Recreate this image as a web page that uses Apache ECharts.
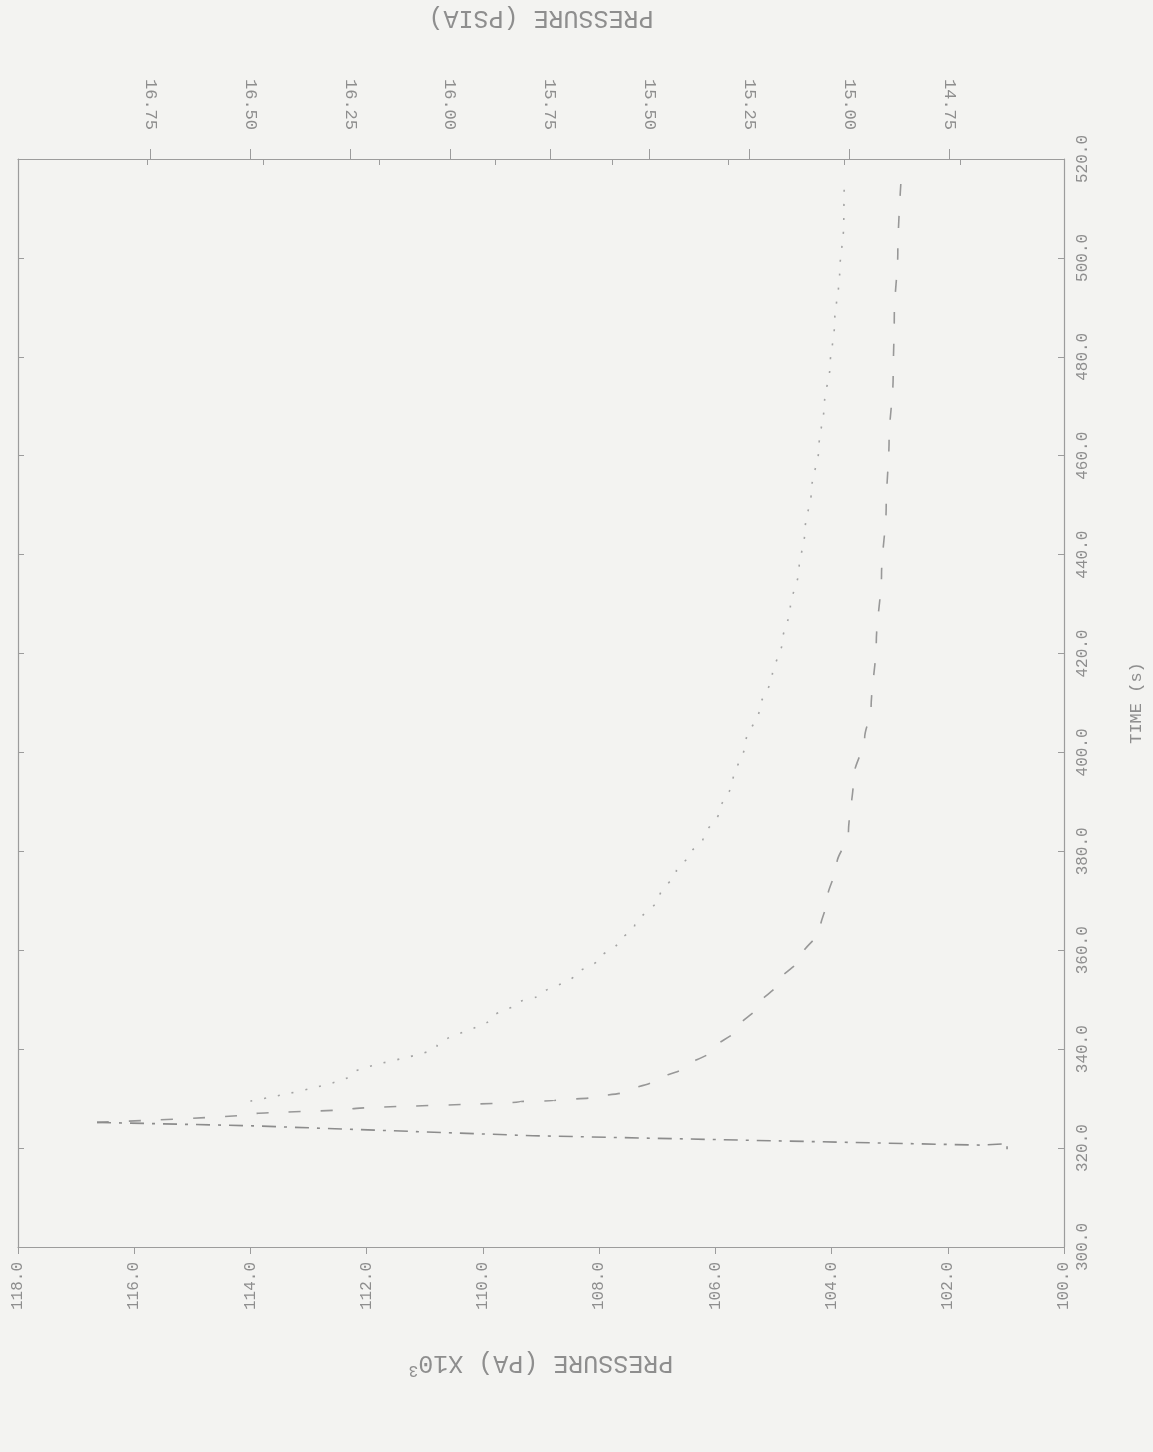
<!DOCTYPE html>
<html>
<head>
<meta charset="utf-8">
<script src="https://cdn.jsdelivr.net/npm/echarts@6/dist/echarts.min.js"></script>
<style>
html,body{margin:0;padding:0;background:#f3f3f1;}
#c{width:1153px;height:1452px;}
</style>
</head>
<body>
<div id="c"></div>
<script>
// Tick labels
const paTicks = [100, 102, 104, 106, 108, 110, 112, 114, 116, 118];
const psiaTicks = [14.75, 15.00, 15.25, 15.50, 15.75, 16.00, 16.25, 16.50, 16.75];
const timeTicks = [300, 320, 340, 360, 380, 400, 420, 440, 460, 480, 500, 520];

// Dashed curve: pressure (kPa) and time (s)
const dashedP = [116.64, 113.96, 112.26, 109.35, 108.78, 108.14, 107.61, 107.08, 106.55, 106.09, 105.62, 105.26, 104.92, 104.51, 104.20, 104.08, 103.91, 103.71, 103.62, 103.43, 103.32, 103.23, 103.14, 103.06, 103.01, 102.94, 102.92, 102.86, 102.80];
const dashedT = [325.2, 326.9, 327.9, 329.4, 329.6, 330.2, 331.2, 333.5, 336.2, 339.5, 344.2, 348.9, 353.4, 358.9, 364.2, 370.1, 377.5, 383.6, 395.0, 403.0, 408.8, 422.3, 436.0, 449.5, 463.2, 475.8, 488.5, 501.0, 516.5];

// Dotted curve
const dottedP = [114.00, 112.26, 110.79, 109.82, 109.39, 109.02, 108.44, 108.02, 107.68, 107.39, 106.96, 106.67, 106.43, 106.21, 105.92, 105.70, 105.48, 105.24, 105.02, 104.85, 104.71, 104.56, 104.46, 104.34, 104.22, 104.12, 104.03, 103.95, 103.86, 103.79, 103.78];
const dottedT = [329.5, 334.9, 340.6, 346.6, 349.4, 350.9, 354.8, 358.1, 361.5, 364.8, 370.9, 376.1, 379.5, 382.6, 388.3, 394.1, 402.0, 408.8, 415.5, 422.3, 429.2, 437.0, 444.6, 453.5, 461.3, 470.9, 477.7, 486.5, 497.1, 506.9, 515.6];

// Dash-dot curve
const dashDotP = [116.64, 113.96, 109.14, 101.44, 100.98, 100.98];
const dashDotT = [325.2, 324.5, 322.5, 320.6, 320.9, 319.3];

const zip = (a, b) => a.map((v, i) => [v, b[i]]);

const FONT = 'Liberation Mono';
const INK = '#8e8e8e';
const FRAME = '#9c9c9c';

const chart = echarts.init(document.getElementById('c'), null, {renderer: 'canvas'});

const option = {
  backgroundColor: '#f3f3f1',
  animation: false,
  grid: {left: 18, right: 77, top: 151, bottom: 205, containLabel: false},
  xAxis: [
    {
      type: 'value', position: 'bottom', min: 100, max: 118, inverse: true,
      axisLine: {show: true, lineStyle: {color: FRAME, width: 1.2}},
      axisTick: {show: true, inside: false, length: 7, customValues: paTicks, lineStyle: {color: FRAME}},
      axisLabel: {show: true, rotate: 90, margin: 15, customValues: paTicks,
        formatter: v => Number(v).toFixed(1), fontFamily: FONT, fontSize: 16, color: INK},
      splitLine: {show: false},
      name: 'PRESSURE (PA) X10{s|3}', nameLocation: 'middle', nameGap: 101, nameRotate: 180,
      nameTextStyle: {fontFamily: FONT, fontSize: 25, color: INK,
        rich: {s: {fontFamily: FONT, fontSize: 16, color: INK, verticalAlign: 'top', lineHeight: 30}}}
    },
    {
      type: 'value', position: 'top', min: 14.462, max: 17.082, inverse: true,
      axisLine: {show: true, lineStyle: {color: FRAME, width: 1.2}},
      axisTick: {show: true, inside: false, length: 10, customValues: psiaTicks, lineStyle: {color: FRAME}},
      axisLabel: {show: true, rotate: 90, margin: 29, customValues: psiaTicks,
        formatter: v => Number(v).toFixed(2), fontFamily: FONT, fontSize: 17, color: INK},
      splitLine: {show: false},
      name: 'PRESSURE (PSIA)', nameLocation: 'middle', nameGap: 129, nameRotate: 180,
      nameTextStyle: {fontFamily: FONT, fontSize: 25, color: INK}
    },
    {
      type: 'value', position: 'top', min: 100.22, max: 118.22, inverse: true,
      axisLine: {show: false},
      axisTick: {show: true, inside: true, length: 6, customValues: paTicks.slice(1, -1), lineStyle: {color: FRAME}},
      axisLabel: {show: false},
      splitLine: {show: false}
    }
  ],
  yAxis: [
    {
      type: 'value', position: 'right', min: 300, max: 520,
      axisLine: {show: true, lineStyle: {color: FRAME, width: 1.2}},
      axisTick: {show: true, inside: true, length: 6, customValues: timeTicks, lineStyle: {color: FRAME}},
      axisLabel: {show: true, rotate: 90, margin: 11, customValues: timeTicks,
        formatter: v => Number(v).toFixed(1), fontFamily: FONT, fontSize: 16, color: INK},
      splitLine: {show: false},
      name: 'TIME (s)', nameLocation: 'middle', nameGap: 64, nameRotate: 90,
      nameTextStyle: {fontFamily: FONT, fontSize: 17, color: INK}
    },
    {
      type: 'value', position: 'left', min: 300, max: 520,
      axisLine: {show: true, lineStyle: {color: FRAME, width: 1.2}},
      axisTick: {show: true, inside: true, length: 6, customValues: timeTicks.slice(1, -1), lineStyle: {color: FRAME}},
      axisLabel: {show: false},
      splitLine: {show: false}
    }
  ],
  series: [
    {
      type: 'line', xAxisIndex: 0, yAxisIndex: 0, data: zip(dashedP, dashedT),
      showSymbol: false, smooth: 0.3, smoothMonotone: 'y',
      lineStyle: {color: '#989898', width: 1.6, type: [12, 20]}
    },
    {
      type: 'line', xAxisIndex: 0, yAxisIndex: 0, data: zip(dottedP, dottedT),
      showSymbol: false, smooth: 0.3, smoothMonotone: 'y',
      lineStyle: {color: '#a4a4a4', width: 1.6, type: [2, 12]}
    },
    {
      type: 'line', xAxisIndex: 0, yAxisIndex: 0, data: zip(dashDotP, dashDotT),
      showSymbol: false, smooth: false,
      lineStyle: {color: '#8c8c8c', width: 1.6, type: [14, 8, 3, 8]}
    }
  ]
};
chart.setOption(option);
</script>
</body>
</html>
